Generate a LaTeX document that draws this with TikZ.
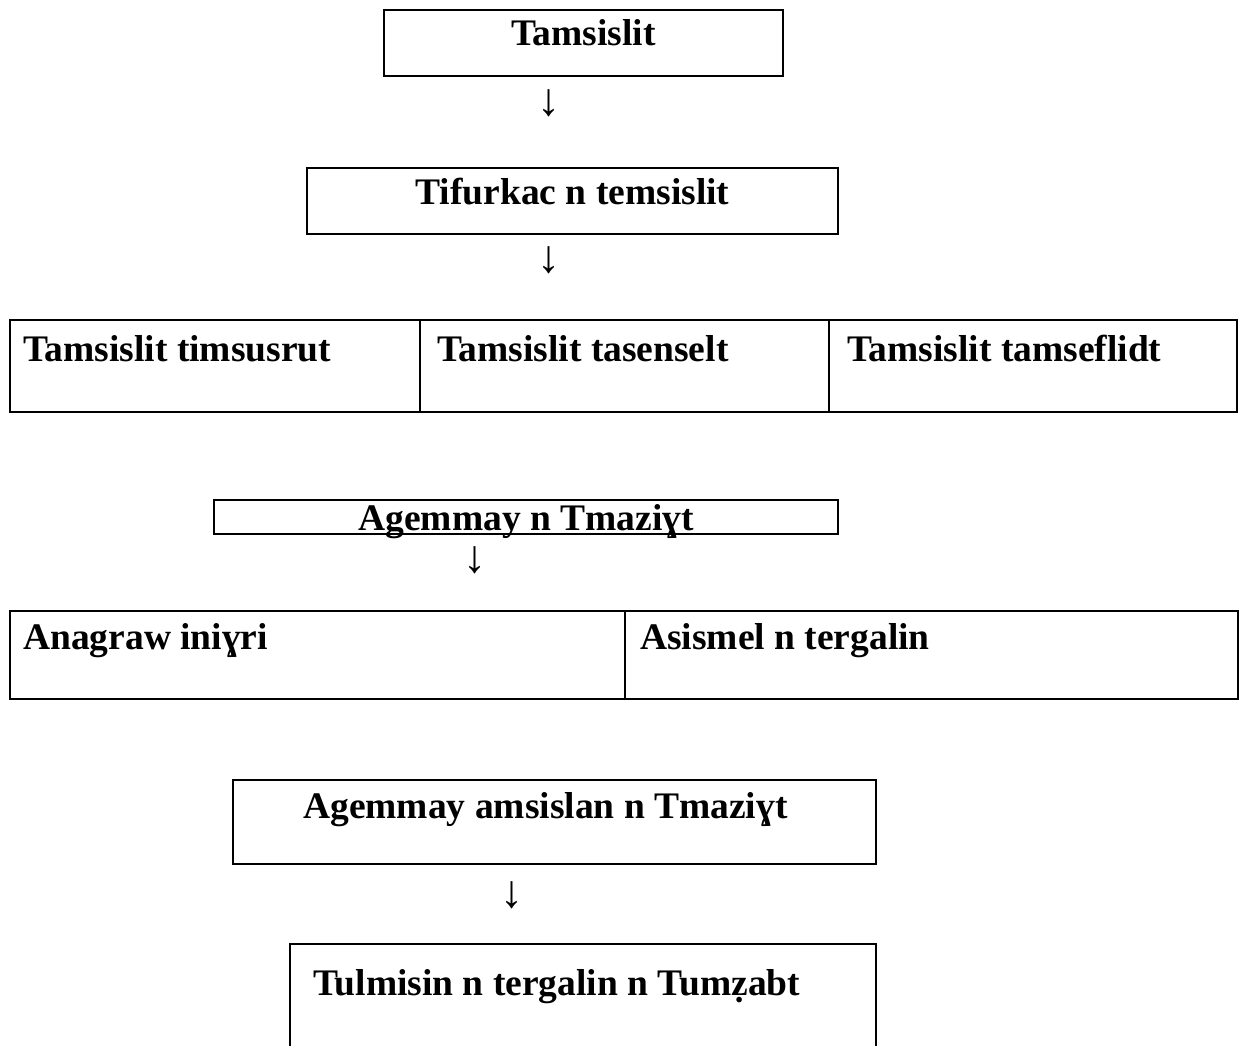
\documentclass[tikz,border=0pt]{standalone}
\usepackage{fontspec}
\setmainfont{Liberation Serif}
\usetikzlibrary{positioning}
\tikzstyle{block} = [draw, rectangle, line width=2pt, inner sep=0pt, outer sep=0pt, anchor=north west]
\tikzstyle{lbl} = [font=\bfseries\fontsize{37.5}{44}\selectfont, inner sep=0pt]
\tikzstyle{down} = [font=\fontsize{46}{52}\selectfont, inner sep=0pt]

\begin{document}
\begin{tikzpicture}[x=1pt, y=-1pt]
	\useasboundingbox (0,0) rectangle (1239,1046);
	\clip (0,0) rectangle (1239,1046);
	% top chain
	\node (b1) [block, minimum width=399pt, minimum height=66pt] at (384,10) {};
	\node (t1) [lbl, anchor=base] at ([yshift=-36pt]b1.north) {Tamsislit};
	\node (a1) [down] at (549,103) {↓};
	\node (b2) [block, minimum width=531pt, minimum height=66pt] at (307,168) {};
	\node (t2) [lbl, anchor=base] at ([yshift=-36pt]b2.north) {Tifurkac n temsislit};
	\node (a2) [down] at (549,260) {↓};
	% three kinds
	\node (c1) [block, minimum width=410pt, minimum height=92pt] at (10,320) {};
	\node (c2) [block, minimum width=409pt, minimum height=92pt, right=0pt of c1] {};
	\node (c3) [block, minimum width=408pt, minimum height=92pt, right=0pt of c2] {};
	\node (s1) [lbl, anchor=base west] at ([xshift=13pt, yshift=-41pt]c1.north west) {Tamsislit timsusrut};
	\node (s2) [lbl, anchor=base west] at ([xshift=17pt, yshift=-41pt]c2.north west) {Tamsislit tasenselt};
	\node (s3) [lbl, anchor=base west] at ([xshift=18pt, yshift=-41pt]c3.north west) {Tamsislit tamseflidt};
	% second chain
	\node (b4) [block, minimum width=624pt, minimum height=34pt] at (214,500) {};
	\node (t4) [lbl, anchor=base] at ([yshift=-30pt]b4.north) {Agemmay n Tmaziɣt};
	\node (a4) [down] at (475,560) {↓};
	\node (d1) [block, minimum width=615pt, minimum height=88pt] at (10,611) {};
	\node (d2) [block, minimum width=613pt, minimum height=88pt, right=0pt of d1] {};
	\node (r1) [lbl, anchor=base west] at ([xshift=13pt, yshift=-38pt]d1.north west) {Anagraw iniɣri};
	\node (r2) [lbl, anchor=base west] at ([xshift=15pt, yshift=-38pt]d2.north west) {Asismel n tergalin};
	% last chain
	\node (b6) [block, minimum width=643pt, minimum height=84pt] at (233,780) {};
	\node (t6) [lbl, anchor=base west] at ([xshift=70pt, yshift=-38pt]b6.north west) {Agemmay amsislan n Tmaziɣt};
	\node (a6) [down] at (512,895) {↓};
	\node (b7) [block, minimum width=586pt, minimum height=120pt] at (290,944) {};
	\node (t7) [lbl, anchor=base west] at ([xshift=23pt, yshift=-51pt]b7.north west) {Tulmisin n tergalin n Tumẓabt};
\end{tikzpicture}
\end{document}
